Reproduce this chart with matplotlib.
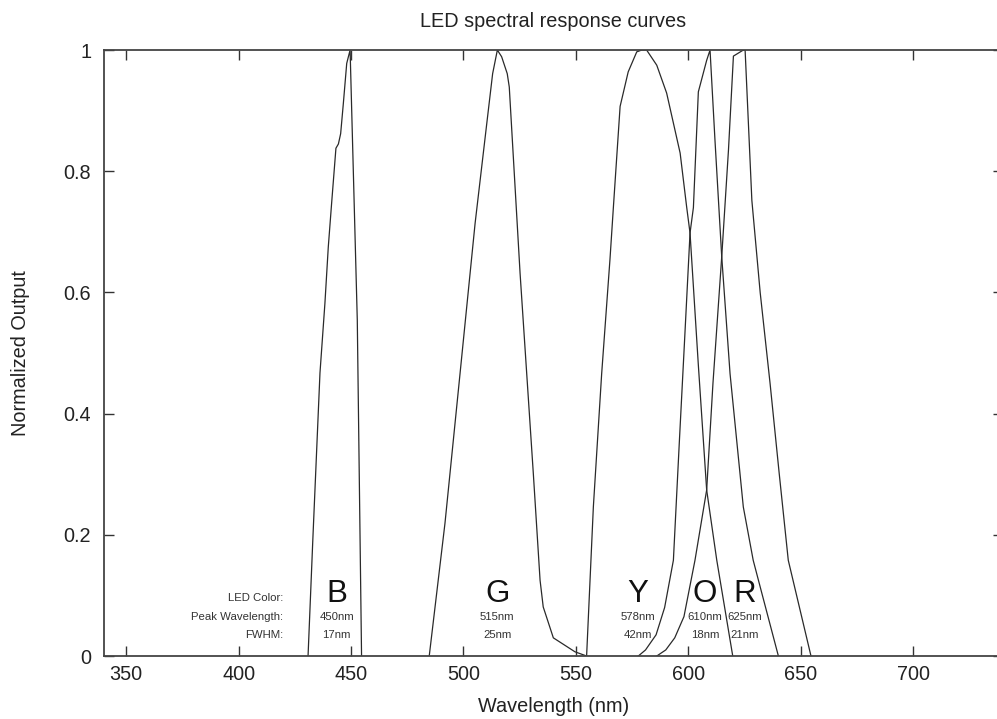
import matplotlib
matplotlib.use('Agg')
import matplotlib.pyplot as plt

plt.rcParams['font.family'] = ['Liberation Sans', 'DejaVu Sans']

# LED spectral curves (wavelength nm, normalized output)
blue_wl = [430.9, 433.0, 436.2, 438.4, 439.9, 441.4, 443.3, 444.4, 445.4, 446.6, 448.1, 449.6, 452.8, 454.7]
blue_out = [0.0, 0.19, 0.467, 0.582, 0.675, 0.748, 0.838, 0.845, 0.862, 0.912, 0.978, 1.0, 0.554, 0.0]

green_wl = [484.8, 491.8, 498.5, 505.2, 510.4, 513.0, 515.1, 517.0, 519.5, 520.4, 525.2, 531.1,
            534.1, 535.5, 540.0, 549.6, 554.8]
green_out = [0.0, 0.219, 0.466, 0.714, 0.879, 0.961, 1.0, 0.989, 0.961, 0.939, 0.632, 0.301,
             0.125, 0.081, 0.03, 0.007, 0.0]

yellow_wl = [554.8, 557.8, 561.5, 565.2, 566.7, 569.7, 573.3, 577.1, 579.3, 581.5, 586.0, 590.4,
             596.4, 599.3, 600.8, 604.5, 608.2, 612.7, 619.8]
yellow_out = [0.0, 0.246, 0.466, 0.655, 0.74, 0.907, 0.964, 0.997, 1.0, 1.0, 0.975, 0.929,
              0.83, 0.741, 0.698, 0.48, 0.274, 0.158, 0.0]

orange_wl = [577.8, 581.0, 585.7, 589.5, 593.4, 596.0, 598.5, 600.8, 602.3, 604.5, 608.2, 609.7,
             611.9, 614.9, 618.6, 624.5, 628.9, 633.0, 640.1]
orange_out = [0.0, 0.01, 0.035, 0.08, 0.158, 0.35, 0.53, 0.698, 0.74, 0.931, 0.983, 1.0,
              0.851, 0.659, 0.466, 0.246, 0.158, 0.1, 0.0]

red_wl = [586.0, 590.0, 594.0, 598.1, 603.0, 608.2, 611.0, 614.9, 617.9, 620.1, 624.5, 625.3,
          628.3, 632.0, 636.4, 640.5, 644.5, 654.6]
red_out = [0.0, 0.01, 0.03, 0.065, 0.158, 0.274, 0.45, 0.659, 0.835, 0.99, 1.0, 1.0,
           0.752, 0.6, 0.45, 0.3, 0.158, 0.0]

led_letters = ['B', 'G', 'Y', 'O', 'R']
peak_labels = ['450nm', '515nm', '578nm', '610nm', '625nm']
fwhm_labels = ['17nm', '25nm', '42nm', '18nm', '21nm']
row_titles = ['LED Color:', 'Peak Wavelength:', 'FWHM:']

x_ticks = [350, 400, 450, 500, 550, 600, 650, 700]
y_ticks = [0, 0.2, 0.4, 0.6, 0.8, 1.0]
y_tick_labels = ['0', '0.2', '0.4', '0.6', '0.8', '1']

# where the annotation columns sit (data x)
label_cols = [443.7, 515.0, 577.7, 607.5, 625.0]
title_col = 419.8

fig = plt.figure(figsize=(9.97, 7.19), dpi=100)
ax = fig.add_axes([0.104, 0.0876, 0.902, 0.8428])

line_kw = dict(color='#2a2a2a', lw=0.9)
for wl, out in [(blue_wl, blue_out), (green_wl, green_out), (yellow_wl, yellow_out),
                (orange_wl, orange_out), (red_wl, red_out)]:
    ax.plot(wl, out, **line_kw)

ax.set_xlim(340, 740)
ax.set_ylim(0, 1)
ax.set_xticks(x_ticks)
ax.set_yticks(y_ticks)
ax.set_yticklabels(y_tick_labels)
ax.tick_params(direction='in', length=7.2, width=1.0, color='#333333',
               top=True, right=True, labelsize=14.3, colors='#222222')
ax.tick_params(axis='x', pad=6.5)
ax.tick_params(axis='y', pad=9)
for s in ax.spines.values():
    s.set_color('#444444')
    s.set_linewidth(1.3)

# LED annotation block
for x, letter, pk, fw in zip(label_cols, led_letters, peak_labels, fwhm_labels):
    ax.text(x, 0.089, letter, ha='center', va='baseline', fontsize=22.5, color='#111111')
    ax.text(x, 0.064, pk, ha='center', va='center', fontsize=8.2, color='#333333')
    ax.text(x, 0.035, fw, ha='center', va='center', fontsize=8.2, color='#333333')
for yy, t in zip([0.096, 0.064, 0.035], row_titles):
    ax.text(title_col, yy, t, ha='right', va='center', fontsize=8.2, color='#333333')

fig.text(553.5 / 997, 1 - 27 / 719, 'LED spectral response curves', ha='center', va='baseline',
         fontsize=14.3, color='#222222')
fig.text(553.5 / 997, 1 - 711.7 / 719, 'Wavelength (nm)', ha='center', va='baseline',
         fontsize=14.3, color='#222222')
fig.text(21 / 997, 1 - 353 / 719, 'Normalized Output', ha='center', va='center', rotation=90,
         fontsize=14.3, color='#222222')

fig.savefig('out.png', dpi=100)
